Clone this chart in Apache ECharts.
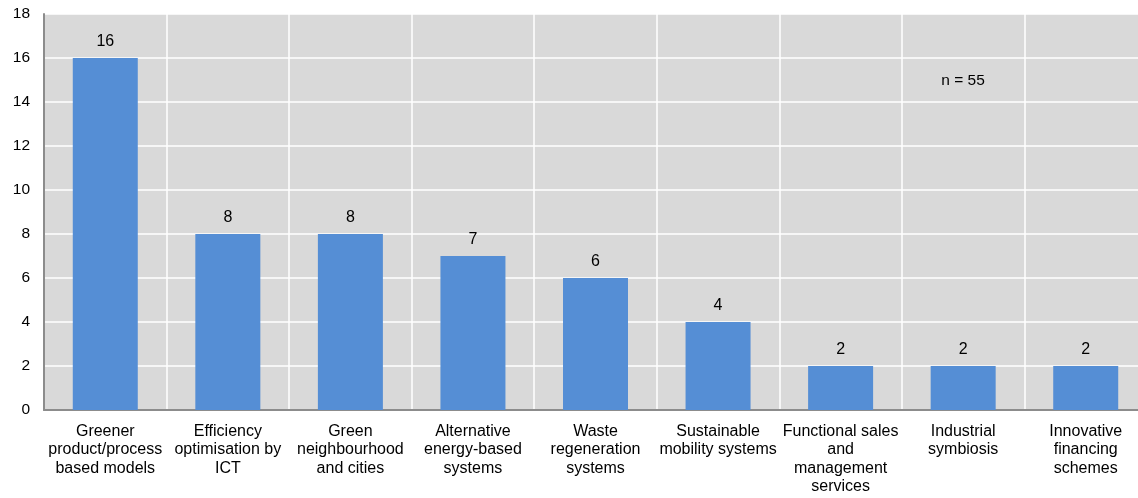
<!DOCTYPE html>
<html>
<head>
<meta charset="utf-8">
<script src="https://cdn.jsdelivr.net/npm/echarts@6/dist/echarts.min.js"></script>
<style>
  html, body { margin: 0; padding: 0; background: #ffffff; overflow: hidden; }
  /* the plot runs on past the right edge of the window */
  #chart { width: 1160px; height: 498px; }
</style>
</head>
<body>
<div id="chart"></div>
<script>
// Business model categories (line breaks as shown under the axis)
const categories = [
  'Greener\nproduct/process\nbased models',
  'Efficiency\noptimisation by\nICT',
  'Green\nneighbourhood\nand cities',
  'Alternative\nenergy-based\nsystems',
  'Waste\nregeneration\nsystems',
  'Sustainable\nmobility systems',
  'Functional sales\nand\nmanagement\nservices',
  'Industrial\nsymbiosis',
  'Innovative\nfinancing\nschemes'
];

// Number of cases per category
const counts = [16, 8, 8, 7, 6, 4, 2, 2, 2];

const sampleNote = 'n = 55';

const chart = echarts.init(document.getElementById('chart'));
const font = 'Liberation Sans, Arial, sans-serif';

chart.setOption({
  animation: false,
  textStyle: { fontFamily: font },
  grid: {
    left: 44,
    top: 14,
    width: 1103,
    height: 396,
    show: true,
    backgroundColor: '#d9d9d9',
    borderWidth: 0
  },
  xAxis: {
    type: 'category',
    data: categories,
    axisLine: { show: true, lineStyle: { color: '#8c8c8c', width: 2 } },
    axisTick: { show: false },
    splitLine: { show: true, lineStyle: { color: '#ffffff', width: 1.5 } },
    axisLabel: {
      interval: 0,
      color: '#000000',
      fontSize: 16,
      lineHeight: 18.5,
      margin: 12,
      fontFamily: font
    }
  },
  yAxis: {
    type: 'value',
    min: 0,
    max: 18,
    interval: 2,
    axisLine: { show: true, lineStyle: { color: '#8c8c8c', width: 2 } },
    axisTick: { show: false },
    splitLine: { show: true, lineStyle: { color: '#ffffff', width: 1.5 } },
    axisLabel: { color: '#000000', fontSize: 15.5, margin: 14, fontFamily: font }
  },
  series: [{
    type: 'bar',
    data: counts,
    barWidth: 65,
    itemStyle: { color: '#558ed5' },
    label: {
      show: true,
      position: 'top',
      distance: 8,
      color: '#000000',
      fontSize: 16,
      fontFamily: font
    }
  }],
  graphic: [{
    type: 'text',
    x: 963,
    y: 81,
    style: {
      text: sampleNote,
      fill: '#000000',
      font: '15.5px ' + font,
      textAlign: 'center',
      textVerticalAlign: 'middle'
    }
  }]
});
</script>
</body>
</html>
